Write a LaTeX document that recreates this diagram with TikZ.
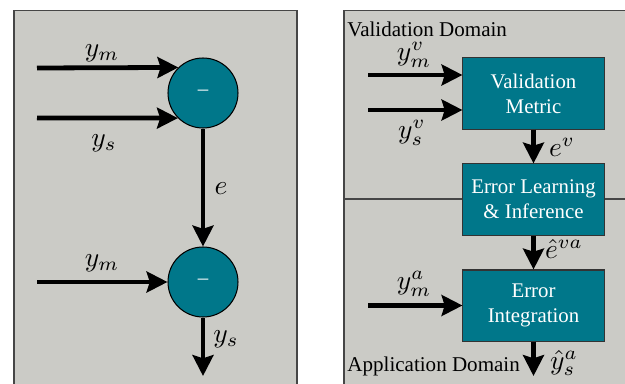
\documentclass[tikz,border=0pt]{standalone}
\usepackage{fontspec}
\setmainfont{Liberation Serif}
\usetikzlibrary{arrows.meta}
\definecolor{panelgray}{RGB}{203,203,198}
\definecolor{blockteal}{RGB}{0,119,138}
\definecolor{edgegray}{RGB}{70,70,70}
\begin{document}
\begin{tikzpicture}[x=0.48pt,y=-0.48pt,
  arr/.style={line width=2.3pt,-{Stealth[length=10pt,width=10pt,inset=1.5pt]}},
  sumnode/.style={circle,draw=black,line width=0.5pt,fill=blockteal,
    minimum size=33.6pt,inner sep=0pt,text=white,font=\fontsize{10}{12}\selectfont},
  block/.style={rectangle,draw=black!80,line width=0.5pt,fill=blockteal,
    minimum width=67.7pt,minimum height=34.1pt,inner sep=0pt,align=center,
    text=white,font=\fontsize{10}{12}\selectfont},
  lab/.style={inner sep=0pt,scale=1.32,font=\fontsize{10}{12}\selectfont},
  regiontitle/.style={inner sep=0pt,anchor=base west,font=\fontsize{10.1}{12}\selectfont},
  panel/.style={fill=panelgray,draw=edgegray,line width=0.6pt}]
\useasboundingbox (0,0) rectangle (625,384);

% background panels
\draw[panel] (14,10.5) rectangle (297,400);
\draw[panel] (344,10.5) rectangle (640,400);
\draw[edgegray,line width=0.6pt] (344,199) -- (640,199);

% left: two summing junctions
\node[sumnode] (s1) at (203,93) {\textendash};
\node[sumnode] (s2) at (203,282) {\textendash};
\coordinate (a1) at (37,68);
\coordinate (a2) at (37,118);
\coordinate (a3) at (37,282);
\coordinate (out1) at (203,376);
\draw[arr] (a1) -- (s1.134.4);
\draw[arr] (a2) -- (s1.225.6);
\draw[arr] (s1) -- (s2);
\draw[arr] (a3) -- (s2);
\draw[arr] (s2) -- (out1);
\node[lab] (l1) at (102,53) {$y_m$};
\node[lab] (l2) at (104,143) {$y_s$};
\node[lab] (l3) at (221,189) {$e$};
\node[lab] (l4) at (102,263) {$y_m$};
\node[lab] (l5) at (226,339) {$y_s$};

% right: validation / application chain
\node[regiontitle] (vd) at (347,36.5) {Validation Domain};
\node[regiontitle] (ad) at (347,371.5) {Application Domain};
\node[block] (vm) at (533.5,93.5) {Validation\\Metric};
\node[block] (el) at (533.5,199.5) {Error Learning\\\& Inference};
\node[block] (ei) at (533.5,305.5) {Error\\Integration};
\coordinate (b1) at (368,75);
\coordinate (b2) at (368,110);
\coordinate (b3) at (368,305.5);
\coordinate (out2) at (533.5,376);
\draw[arr] (b1) -- (b1 -| vm.west);
\draw[arr] (b2) -- (b2 -| vm.west);
\draw[arr] (vm) -- (el);
\draw[arr] (el) -- (ei);
\draw[arr] (b3) -- (ei);
\draw[arr] (ei) -- (out2);
\node[lab] (r1) at (414,55) {$y_m^v$};
\node[lab] (r2) at (412,133) {$y_s^v$};
\node[lab] (r3) at (562,147) {$e^v$};
\node[lab] (r4) at (564,249) {$\hat e^{va}$};
\node[lab] (r5) at (414,284) {$y_m^a$};
\node[lab] (r6) at (564,363) {$\hat y_s^a$};
\end{tikzpicture}
\end{document}
